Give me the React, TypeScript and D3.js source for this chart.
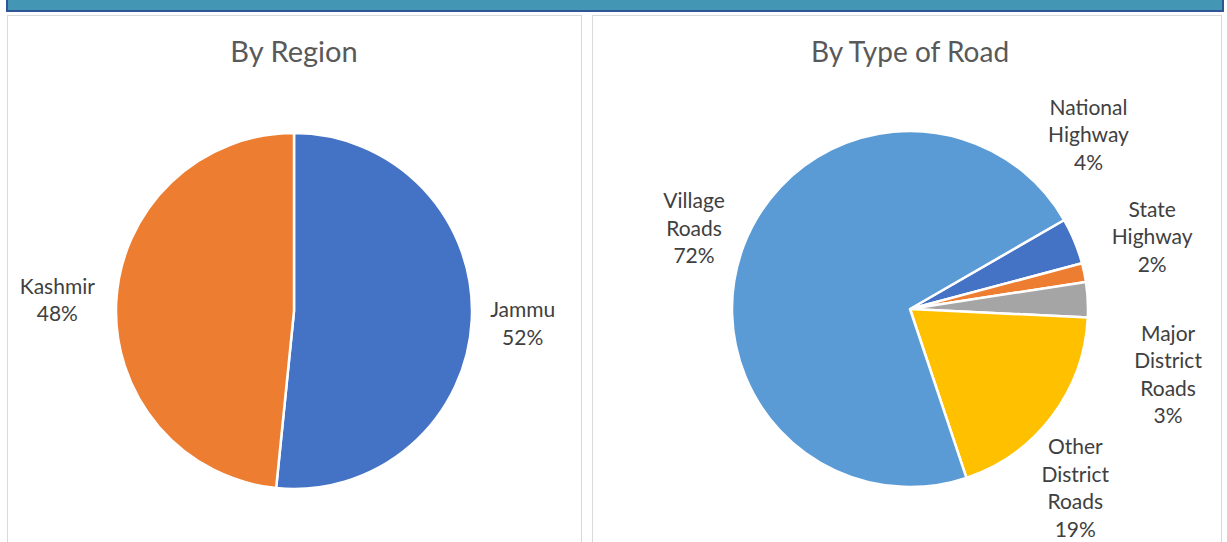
import React from "react";
import * as d3 from "d3";

// ---- data ----
const regionCategories = ["Jammu", "Kashmir"];
const regionValues = [51.6, 48.4];
const regionColors = ["#4472c4", "#ed7d31"];

const roadCategories = ["National Highway", "State Highway", "Major District Roads", "Other District Roads", "Village Roads"];
const roadValues = [4.2, 1.7, 3.2, 19.1, 71.8];
const roadColors = ["#4472c4", "#ed7d31", "#a5a5a5", "#ffc000", "#5b9bd5"];

// label line splits (text only)
const regionLabelLines = [["Jammu"], ["Kashmir"]];
const roadLabelLines = [["National", "Highway"], ["State", "Highway"], ["Major", "District", "Roads"], ["Other", "District", "Roads"], ["Village", "Roads"]];

// label layout (angle offset from slice middle in degrees, radius)
const regionLabelLayout = [{ da: 0, r: 229 }, { da: 0, r: 237 }];
const roadLabelLayout = [{ da: -22, r: 250 }, { da: -5, r: 253 }, { da: 17, r: 266 }, { da: 10, r: 243 }, { da: 0, r: 231 }];

const FONT = "Lato, 'Open Sans', sans-serif";

type PieProps = {
  cx: number; cy: number; r: number; startDeg: number;
  values: number[]; colors: string[]; lines: string[][];
  layout: { da: number; r: number }[];
};

function Pie({ cx, cy, r, startDeg, values, colors, lines, layout }: PieProps) {
  const start = (startDeg * Math.PI) / 180;
  const pie = d3.pie<number>().sort(null).value((d) => d).startAngle(start).endAngle(start + 2 * Math.PI);
  const arcs = pie(values);
  const arc = d3.arc<d3.PieArcDatum<number>>().innerRadius(0).outerRadius(r);
  const total = d3.sum(values);
  const lh = 27.5;
  return (
    <g transform={`translate(${cx},${cy})`}>
      {arcs.map((a, i) => (
        <path key={i} d={arc(a) || ""} fill={colors[i]} stroke="#ffffff" strokeWidth={2.5} strokeLinejoin="round" />
      ))}
      {arcs.map((a, i) => {
        const mid = (a.startAngle + a.endAngle) / 2 + (layout[i].da * Math.PI) / 180;
        const lx = Math.sin(mid) * layout[i].r;
        const ly = -Math.cos(mid) * layout[i].r;
        const txt = [...lines[i], `${Math.round((values[i] / total) * 100)}%`];
        const y0 = ly - ((txt.length - 1) * lh) / 2;
        return (
          <text key={"t" + i} x={lx} textAnchor="middle" fontFamily={FONT} fontSize={21} fill="#404040">
            {txt.map((t, j) => (
              <tspan key={j} x={lx} y={y0 + j * lh} dominantBaseline="central">{t}</tspan>
            ))}
          </text>
        );
      })}
    </g>
  );
}

export default function App() {
  return (
    <svg width={1227} height={542} style={{ position: "absolute", left: 0, top: 0, background: "#ffffff" }}>
      <rect x={0} y={0} width={1227} height={542} fill="#ffffff" />
      <rect x={7} y={-6} width={1216} height={17} fill="#4397b5" stroke="#2f5597" strokeWidth={2} />
      <rect x={7.5} y={15.5} width={574} height={540} fill="#ffffff" stroke="#d9d9d9" strokeWidth={1} />
      <rect x={592.5} y={15.5} width={629} height={540} fill="#ffffff" stroke="#d9d9d9" strokeWidth={1} />
      <text x={294} y={62} textAnchor="middle" fontFamily={FONT} fontSize={29} fill="#595959">By Region</text>
      <text x={910} y={62} textAnchor="middle" fontFamily={FONT} fontSize={28} fill="#595959">By Type of Road</text>
      <Pie cx={294} cy={311} r={178} startDeg={0} values={regionValues} colors={regionColors} lines={regionLabelLines} layout={regionLabelLayout} />
      <Pie cx={910} cy={309} r={178} startDeg={60} values={roadValues} colors={roadColors} lines={roadLabelLines} layout={roadLabelLayout} />
    </svg>
  );
}
